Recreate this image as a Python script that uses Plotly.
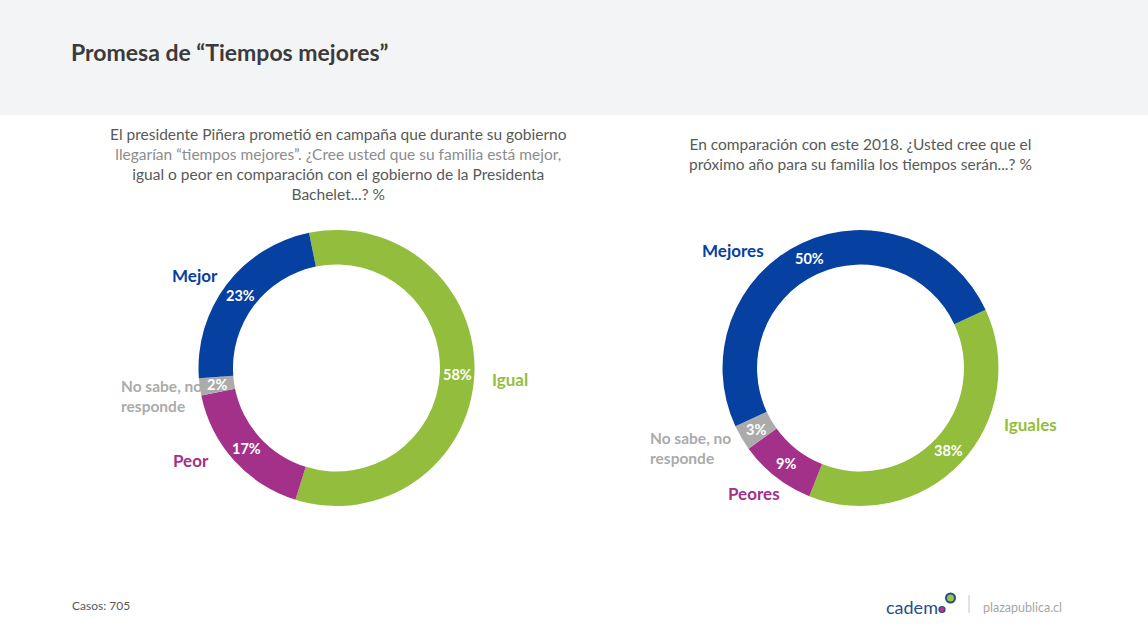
import math
import plotly.graph_objects as go

W, H = 1148, 631

# ---------------- data ----------------
left_categories = ["Igual", "Peor", "No sabe, no responde", "Mejor"]
left_values = [58, 17, 2, 23]
right_categories = ["Iguales", "Peores", "No sabe, no responde", "Mejores"]
right_values = [38, 9, 3, 50]

title_text = "Promesa de “Tiempos mejores”"
left_question = [
    "El presidente Piñera prometió en campaña que durante su gobierno",
    "llegarían “tiempos mejores”. ¿Cree usted que su familia está mejor,",
    "igual o peor en comparación con el gobierno de la Presidenta",
    "Bachelet...? %",
]
right_question = [
    "En comparación con este 2018. ¿Usted cree que el",
    "próximo año para su familia los tiempos serán...? %",
]
footer_cases = "Casos: 705"

# ---------------- style ----------------
GREEN = "#93BD3C"
PURPLE = "#A3318A"
GRAY = "#ABABAB"
BLUE = "#0640A0"
left_colors = [GREEN, PURPLE, GRAY, BLUE]
right_colors = [GREEN, PURPLE, GRAY, BLUE]
FONT = "Lato"

R_OUT = 138
HOLE = 0.75
left_center = (336.5, 368)
right_center = (860.5, 368)
left_rotation = -11.5
right_rotation = 65

# category label placements (px, anchor) per chart
left_label_pos = [(490, 379, "left"), (211, 460, "right"), (119, 396, "left"), (220, 275, "right")]
right_label_pos = [(1002, 424, "left"), (782, 493, "right"), (648, 448, "left"), (766, 250, "right")]


def px(x, y):
    return x / W, 1 - y / H


def domain(center):
    cx, cy = center
    x0, y1 = px(cx - R_OUT, cy - R_OUT)
    x1, y0 = px(cx + R_OUT, cy + R_OUT)
    return dict(x=[x0, x1], y=[y0, y1])


fig = go.Figure()

for cats, vals, cols, center, rot in [
    (left_categories, left_values, left_colors, left_center, left_rotation),
    (right_categories, right_values, right_colors, right_center, right_rotation),
]:
    fig.add_trace(go.Pie(
        labels=cats, values=vals, hole=HOLE, sort=False, direction="clockwise",
        rotation=rot, marker=dict(colors=cols, line=dict(width=0)),
        textinfo="none", hoverinfo="label+value", showlegend=False,
        domain=domain(center),
    ))

annotations = []
shapes = []

# header band
shapes.append(dict(type="rect", xref="paper", yref="paper", x0=0, x1=1, y0=px(0, 115)[1], y1=1,
                   fillcolor="#F3F4F6", line=dict(width=0), layer="below"))

annotations.append(dict(text="<b>" + title_text + "</b>", x=px(69, 0)[0], y=px(0, 52)[1],
                        xref="paper", yref="paper", xanchor="left", yanchor="middle",
                        showarrow=False, font=dict(family=FONT, size=23, color="#3B3B3B")))

lq = list(left_question)
lq[1] = '<span style="color:#8C8C8C">' + lq[1] + "</span>"
annotations.append(dict(text="<br>".join(lq), x=px(338, 0)[0], y=px(0, 123)[1],
                        xref="paper", yref="paper", xanchor="center", yanchor="top",
                        align="center", showarrow=False,
                        font=dict(family=FONT, size=15.5, color="#595959")))
annotations.append(dict(text="<br>".join(right_question), x=px(860, 0)[0], y=px(0, 133)[1],
                        xref="paper", yref="paper", xanchor="center", yanchor="top",
                        align="center", showarrow=False,
                        font=dict(family=FONT, size=15.5, color="#595959")))

# percentage labels at slice midpoints + category labels
r_mid = R_OUT * (1 + HOLE) / 2
for cats, vals, cols, center, rot, lpos in [
    (left_categories, left_values, left_colors, left_center, left_rotation, left_label_pos),
    (right_categories, right_values, right_colors, right_center, right_rotation, right_label_pos),
]:
    total = sum(vals)
    start = rot
    for cat, v, c, (lx, ly, anc) in zip(cats, vals, cols, lpos):
        span = 360 * v / total
        mid = math.radians(start + span / 2)
        start += span
        x = center[0] + r_mid * math.sin(mid)
        y = center[1] - r_mid * math.cos(mid)
        xp, yp = px(x, y)
        annotations.append(dict(text=f"<b>{v}%</b>", x=xp, y=yp, xref="paper", yref="paper",
                                xanchor="center", yanchor="middle", showarrow=False,
                                font=dict(family=FONT, size=14.5, color="white")))
        is_ns = "No sabe" in cat
        label = cat.replace("no responde", "no<br>responde") if is_ns else cat
        lxp, lyp = px(lx, ly)
        annotations.append(dict(text=f"<b>{label}</b>", x=lxp, y=lyp, xref="paper", yref="paper",
                                xanchor=anc, yanchor="middle", align="left", showarrow=False,
                                font=dict(family=FONT, size=15.5 if is_ns else 17, color=c)))

# footer
annotations.append(dict(text=footer_cases, x=px(70, 0)[0], y=px(0, 605)[1], xref="paper", yref="paper",
                        xanchor="left", yanchor="middle", showarrow=False,
                        font=dict(family=FONT, size=12, color="#595959")))
annotations.append(dict(text="cadem", x=px(884, 0)[0], y=px(0, 607)[1], xref="paper", yref="paper",
                        xanchor="left", yanchor="middle", showarrow=False,
                        font=dict(family=FONT, size=18, color="#1F4E8C")))
annotations.append(dict(text="plazapublica.cl", x=px(981, 0)[0], y=px(0, 607)[1], xref="paper", yref="paper",
                        xanchor="left", yanchor="middle", showarrow=False,
                        font=dict(family=FONT, size=12.5, color="#A6A6A6")))


def circle(cx, cy, r, fill, line_color, lw):
    x0, y0 = px(cx - r, cy + r)
    x1, y1 = px(cx + r, cy - r)
    return dict(type="circle", xref="paper", yref="paper", x0=x0, x1=x1, y0=y0, y1=y1,
                fillcolor=fill, line=dict(color=line_color, width=lw))


shapes.append(circle(950.5, 598, 4.5, "#9BC53D", "#1F4E8C", 2))
shapes.append(circle(942, 609.5, 3, "#C0328A", "#1F4E8C", 1.2))
x0, y0 = px(969, 613)
x1, y1 = px(969, 595)
shapes.append(dict(type="line", xref="paper", yref="paper", x0=x0, x1=x1, y0=y0, y1=y1,
                   line=dict(color="#C8C8C8", width=1)))

fig.update_layout(
    width=W, height=H, margin=dict(l=0, r=0, t=0, b=0),
    paper_bgcolor="white", plot_bgcolor="white",
    annotations=annotations, shapes=shapes,
    font=dict(family=FONT),
)

fig.write_html("out.html", config={"displayModeBar": False},
               post_script="document.body.style.margin='0';document.body.style.overflow='hidden';")
